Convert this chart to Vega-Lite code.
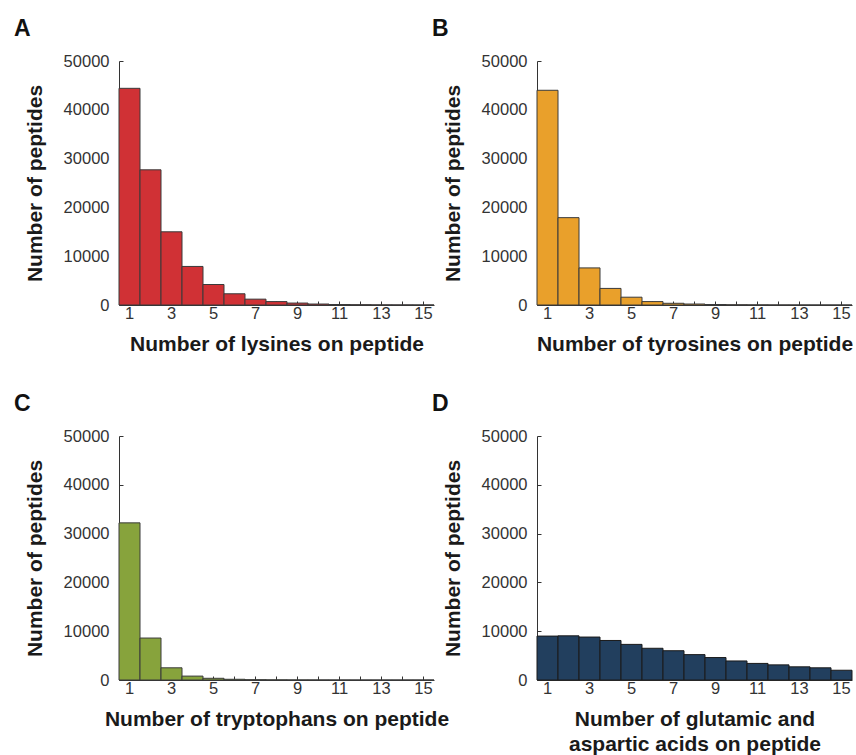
{
  "$schema": "https://vega.github.io/schema/vega-lite/v6.json",
  "background": "white",
  "padding": {"left": 14, "top": 18, "right": 0, "bottom": 0},
  "config": {
    "view": {"stroke": null},
    "font": "Liberation Sans",
    "axis": {
      "grid": false,
      "domainColor": "#333333",
      "domainWidth": 1,
      "tickColor": "#333333",
      "tickSize": -4,
      "labelFont": "Liberation Sans",
      "labelFontSize": 16.5,
      "labelColor": "#333333",
      "titleFont": "Liberation Sans",
      "titleFontSize": 21,
      "titleFontWeight": "bold",
      "titleColor": "#1a1a1a"
    },
    "axisX": {"labelAngle": 0, "labelPadding": 4, "titlePadding": 12, "titleLineHeight": 25},
    "axisY": {"labelPadding": 14, "titlePadding": 18},
    "title": {"fontSize": 23, "fontWeight": "bold", "color": "#111111", "anchor": "start", "frame": "group", "dx": -105, "baseline": "alphabetic", "offset": 12}
  },
  "data": {
    "values": [
      {"panel": "A", "n": 1, "count": 44400}, {"panel": "A", "n": 2, "count": 27700}, {"panel": "A", "n": 3, "count": 15000},
      {"panel": "A", "n": 4, "count": 7900}, {"panel": "A", "n": 5, "count": 4200}, {"panel": "A", "n": 6, "count": 2300},
      {"panel": "A", "n": 7, "count": 1200}, {"panel": "A", "n": 8, "count": 700}, {"panel": "A", "n": 9, "count": 400},
      {"panel": "A", "n": 10, "count": 200}, {"panel": "A", "n": 11, "count": 100}, {"panel": "A", "n": 12, "count": 60},
      {"panel": "A", "n": 13, "count": 30}, {"panel": "A", "n": 14, "count": 20}, {"panel": "A", "n": 15, "count": 10},
      {"panel": "B", "n": 1, "count": 44000}, {"panel": "B", "n": 2, "count": 17900}, {"panel": "B", "n": 3, "count": 7600},
      {"panel": "B", "n": 4, "count": 3400}, {"panel": "B", "n": 5, "count": 1600}, {"panel": "B", "n": 6, "count": 700},
      {"panel": "B", "n": 7, "count": 350}, {"panel": "B", "n": 8, "count": 200}, {"panel": "B", "n": 9, "count": 100},
      {"panel": "B", "n": 10, "count": 50}, {"panel": "B", "n": 11, "count": 30}, {"panel": "B", "n": 12, "count": 15},
      {"panel": "B", "n": 13, "count": 10}, {"panel": "B", "n": 14, "count": 5}, {"panel": "B", "n": 15, "count": 5},
      {"panel": "C", "n": 1, "count": 32200}, {"panel": "C", "n": 2, "count": 8600}, {"panel": "C", "n": 3, "count": 2500},
      {"panel": "C", "n": 4, "count": 800}, {"panel": "C", "n": 5, "count": 350}, {"panel": "C", "n": 6, "count": 150},
      {"panel": "C", "n": 7, "count": 60}, {"panel": "C", "n": 8, "count": 30}, {"panel": "C", "n": 9, "count": 15},
      {"panel": "C", "n": 10, "count": 10}, {"panel": "C", "n": 11, "count": 5}, {"panel": "C", "n": 12, "count": 3},
      {"panel": "C", "n": 13, "count": 2}, {"panel": "C", "n": 14, "count": 1}, {"panel": "C", "n": 15, "count": 1},
      {"panel": "D", "n": 1, "count": 9000}, {"panel": "D", "n": 2, "count": 9050}, {"panel": "D", "n": 3, "count": 8800},
      {"panel": "D", "n": 4, "count": 8100}, {"panel": "D", "n": 5, "count": 7300}, {"panel": "D", "n": 6, "count": 6500},
      {"panel": "D", "n": 7, "count": 6000}, {"panel": "D", "n": 8, "count": 5200}, {"panel": "D", "n": 9, "count": 4600},
      {"panel": "D", "n": 10, "count": 3900}, {"panel": "D", "n": 11, "count": 3400}, {"panel": "D", "n": 12, "count": 3100},
      {"panel": "D", "n": 13, "count": 2700}, {"panel": "D", "n": 14, "count": 2500}, {"panel": "D", "n": 15, "count": 2000}
    ]
  },
  "columns": 2,
  "bounds": "flush",
  "spacing": {"row": 131, "column": 103},
  "concat": [
    {
      "width": 315, "height": 244,
      "title": {"text": "A"},
      "transform": [{"filter": "datum.panel == 'A'"}],
      "mark": {"type": "bar", "fill": "#D03135", "stroke": "#3a3a3a", "strokeWidth": 1},
      "encoding": {
        "x": {"field": "n", "type": "ordinal", "scale": {"paddingInner": 0, "paddingOuter": 0},
              "axis": {"title": "Number of lysines on peptide", "labelExpr": "datum.value % 2 == 1 ? datum.label : ''"}},
        "y": {"field": "count", "type": "quantitative", "scale": {"domain": [0, 50000]},
              "axis": {"title": "Number of peptides", "values": [0, 10000, 20000, 30000, 40000, 50000], "format": "d"}}
      }
    },
    {
      "width": 315, "height": 244,
      "title": {"text": "B"},
      "transform": [{"filter": "datum.panel == 'B'"}],
      "mark": {"type": "bar", "fill": "#E9A02B", "stroke": "#3a3a3a", "strokeWidth": 1},
      "encoding": {
        "x": {"field": "n", "type": "ordinal", "scale": {"paddingInner": 0, "paddingOuter": 0},
              "axis": {"title": "Number of tyrosines on peptide", "labelExpr": "datum.value % 2 == 1 ? datum.label : ''"}},
        "y": {"field": "count", "type": "quantitative", "scale": {"domain": [0, 50000]},
              "axis": {"title": "Number of peptides", "values": [0, 10000, 20000, 30000, 40000, 50000], "format": "d"}}
      }
    },
    {
      "width": 315, "height": 244,
      "title": {"text": "C"},
      "transform": [{"filter": "datum.panel == 'C'"}],
      "mark": {"type": "bar", "fill": "#87A33C", "stroke": "#3a3a3a", "strokeWidth": 1},
      "encoding": {
        "x": {"field": "n", "type": "ordinal", "scale": {"paddingInner": 0, "paddingOuter": 0},
              "axis": {"title": "Number of tryptophans on peptide", "labelExpr": "datum.value % 2 == 1 ? datum.label : ''"}},
        "y": {"field": "count", "type": "quantitative", "scale": {"domain": [0, 50000]},
              "axis": {"title": "Number of peptides", "values": [0, 10000, 20000, 30000, 40000, 50000], "format": "d"}}
      }
    },
    {
      "width": 315, "height": 244,
      "title": {"text": "D"},
      "transform": [{"filter": "datum.panel == 'D'"}],
      "mark": {"type": "bar", "fill": "#223F5E", "stroke": "#1a1a1a", "strokeWidth": 1},
      "encoding": {
        "x": {"field": "n", "type": "ordinal", "scale": {"paddingInner": 0, "paddingOuter": 0},
              "axis": {"title": ["Number of glutamic and", "aspartic acids on peptide"], "labelExpr": "datum.value % 2 == 1 ? datum.label : ''"}},
        "y": {"field": "count", "type": "quantitative", "scale": {"domain": [0, 50000]},
              "axis": {"title": "Number of peptides", "values": [0, 10000, 20000, 30000, 40000, 50000], "format": "d"}}
      }
    }
  ]
}
